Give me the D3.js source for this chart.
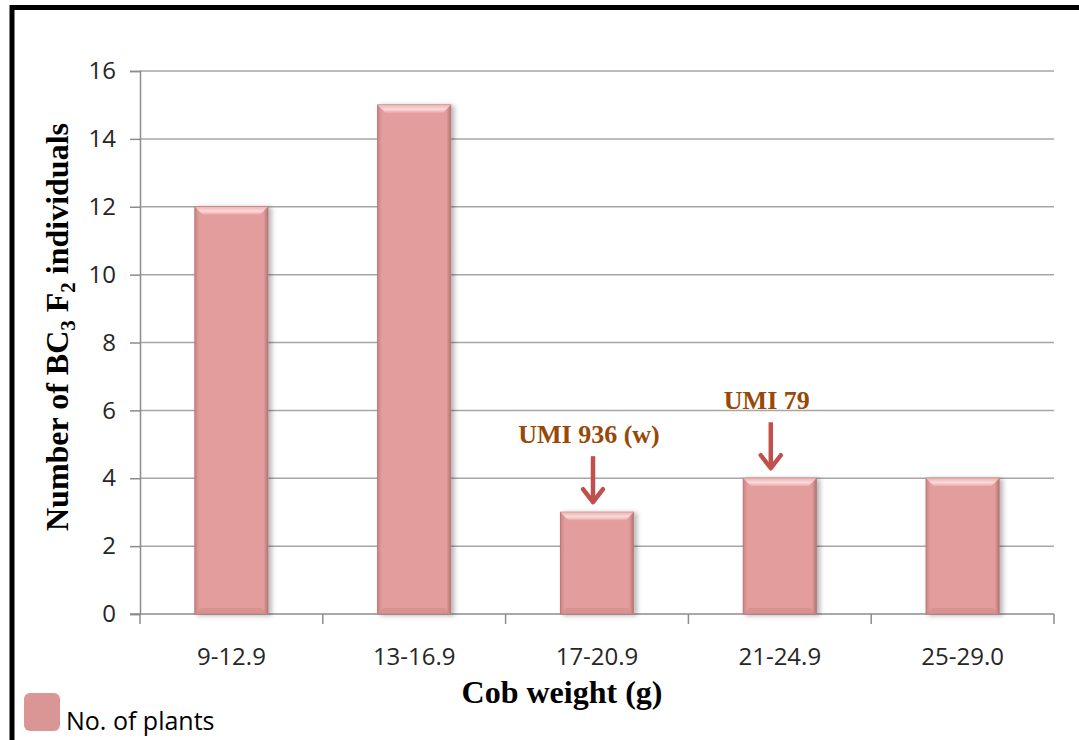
<!DOCTYPE html>
<html>
<head>
<meta charset="utf-8">
<script src="https://cdn.jsdelivr.net/npm/d3@7"></script>
<style>
  body { margin: 0; background: #ffffff; }
  svg { display: block; }
</style>
</head>
<body>
<div id="chart"></div>
<script>
// data
const categories = [ '9-12.9', '13-16.9', '17-20.9', '21-24.9', '25-29.0' ];
const plants = [ 12, 15, 3, 4, 4 ];
const yTicks = [ 0, 2, 4, 6, 8, 10, 12, 14, 16 ];
const noteLabels = [ 'UMI 936 (w)', 'UMI 79' ];
const noteCategories = [ '17-20.9', '21-24.9' ];

const figure_width = 1079;
const figure_height = 740;
const plot_margin = { top: 71, right: 25, bottom: 126, left: 140 },
    plot_width = figure_width - plot_margin.left - plot_margin.right,
    plot_height = figure_height - plot_margin.top - plot_margin.bottom;

const tickStyle = 'font-size:24px; font-family:"Open Sans"; fill:#262626;';
const titleStyle = 'font-size:32px; font-family:"Liberation Serif"; font-weight:bold; fill:#000;';

const svg = d3.select( '#chart' )
  .append( 'svg' )
    .attr( 'width', figure_width )
    .attr( 'height', figure_height );

// bar shading
const defs = svg.append( 'defs' );
const grad = defs.append( 'linearGradient' ).attr( 'id', 'barFill' )
  .attr( 'x1', 0 ).attr( 'x2', 1 ).attr( 'y1', 0 ).attr( 'y2', 0 );
grad.append( 'stop' ).attr( 'offset', '0%' ).attr( 'stop-color', '#c98584' );
grad.append( 'stop' ).attr( 'offset', '6%' ).attr( 'stop-color', '#e39d9c' );
grad.append( 'stop' ).attr( 'offset', '94%' ).attr( 'stop-color', '#e39d9c' );
grad.append( 'stop' ).attr( 'offset', '100%' ).attr( 'stop-color', '#b27473' );
const topGrad = defs.append( 'linearGradient' ).attr( 'id', 'barTop' )
  .attr( 'x1', 0 ).attr( 'x2', 0 ).attr( 'y1', 0 ).attr( 'y2', 1 );
topGrad.append( 'stop' ).attr( 'offset', '0%' ).attr( 'stop-color', '#f0b3b2' );
topGrad.append( 'stop' ).attr( 'offset', '55%' ).attr( 'stop-color', '#fbdada' );
topGrad.append( 'stop' ).attr( 'offset', '100%' ).attr( 'stop-color', '#e8a6a5' );
const shadow = defs.append( 'filter' ).attr( 'id', 'shadow' )
  .attr( 'x', '-20%' ).attr( 'y', '-10%' ).attr( 'width', '150%' ).attr( 'height', '130%' );
shadow.append( 'feDropShadow' )
  .attr( 'dx', 3 ).attr( 'dy', 1 ).attr( 'stdDeviation', 2.5 )
  .attr( 'flood-color', '#000' ).attr( 'flood-opacity', 0.3 );

// black frame (top and left only)
svg.append( 'path' )
  .attr( 'd', 'M12,' + figure_height + ' V7.5 H' + figure_width )
  .attr( 'fill', 'none' )
  .attr( 'stroke', '#000' )
  .attr( 'stroke-width', 5 );

const g = svg.append( 'g' )
  .attr( 'transform', 'translate(' + plot_margin.left + ',' + plot_margin.top + ')' );

const x = d3.scaleBand()
  .domain( categories )
  .range( [ 0, plot_width ] )
  .paddingInner( 0.6 )
  .paddingOuter( 0.3 );
const xEdge = d3.scaleBand().domain( categories ).range( [ 0, plot_width ] );

const y = d3.scaleLinear()
  .domain( [ 0, 16 ] )
  .range( [ plot_height, 0 ] );

// gridlines
g.append( 'g' )
  .selectAll( 'line' )
  .data( yTicks.filter( function( d ) { return d > 0; } ) )
  .enter()
  .append( 'line' )
    .attr( 'x1', 0 )
    .attr( 'x2', plot_width )
    .attr( 'y1', function( d ) { return y( d ); } )
    .attr( 'y2', function( d ) { return y( d ); } )
    .attr( 'stroke', '#a6a6a6' )
    .attr( 'stroke-width', 1.5 );

// Y axis
const yAxis = g.append( 'g' )
  .call( d3.axisLeft( y ).tickValues( yTicks ).tickSize( 10 ).tickPadding( 14 ) );
yAxis.select( '.domain' ).attr( 'stroke', '#8c8c8c' ).attr( 'stroke-width', 1.5 );
yAxis.selectAll( '.tick line' ).attr( 'stroke', '#8c8c8c' ).attr( 'stroke-width', 1.5 );
yAxis.selectAll( '.tick text' ).attr( 'style', tickStyle );

// X axis: ticks at band edges
const xg = g.append( 'g' ).attr( 'transform', 'translate(0,' + plot_height + ')' );
xg.append( 'line' )
  .attr( 'x1', -10 ).attr( 'x2', plot_width )
  .attr( 'stroke', '#8c8c8c' ).attr( 'stroke-width', 1.5 );
xg.selectAll( 'line.edge' )
  .data( categories.concat( [ null ] ) )
  .enter()
  .append( 'line' )
    .attr( 'class', 'edge' )
    .attr( 'x1', function( d ) { return d === null ? plot_width : xEdge( d ); } )
    .attr( 'x2', function( d ) { return d === null ? plot_width : xEdge( d ); } )
    .attr( 'y1', 0 ).attr( 'y2', 10 )
    .attr( 'stroke', '#8c8c8c' ).attr( 'stroke-width', 1.5 );
xg.selectAll( 'text' )
  .data( categories )
  .enter()
  .append( 'text' )
    .attr( 'x', function( d ) { return xEdge( d ) + xEdge.bandwidth() / 2; } )
    .attr( 'y', 51 )
    .attr( 'text-anchor', 'middle' )
    .attr( 'style', tickStyle )
    .text( function( d ) { return d; } );

// bars
const bars = g.append( 'g' )
  .selectAll( 'g' )
  .data( categories )
  .enter()
  .append( 'g' );
bars.append( 'rect' )
  .attr( 'x', function( d ) { return x( d ); } )
  .attr( 'y', function( d, i ) { return y( plants[ i ] ); } )
  .attr( 'width', x.bandwidth() )
  .attr( 'height', function( d, i ) { return plot_height - y( plants[ i ] ); } )
  .attr( 'fill', 'url(#barFill)' )
  .attr( 'stroke', '#b87877' )
  .attr( 'stroke-width', 1 )
  .attr( 'filter', 'url(#shadow)' );
// top bevel
const bev = 8;
bars.append( 'path' )
  .attr( 'd', function( d, i ) {
    const x0 = x( d ), x1 = x( d ) + x.bandwidth(), t = y( plants[ i ] );
    return 'M' + x0 + ',' + t + 'H' + x1 + 'L' + ( x1 - bev ) + ',' + ( t + bev ) +
      'H' + ( x0 + bev ) + 'Z';
  } )
  .attr( 'fill', 'url(#barTop)' );
// bottom bevel
bars.append( 'path' )
  .attr( 'd', function( d ) {
    const x0 = x( d ), x1 = x( d ) + x.bandwidth(), b = plot_height;
    return 'M' + x0 + ',' + b + 'H' + x1 + 'L' + ( x1 - 6 ) + ',' + ( b - 6 ) +
      'H' + ( x0 + 6 ) + 'Z';
  } )
  .attr( 'fill', '#d18c8b' )
  .attr( 'opacity', 0.6 );

// annotations with arrows
const notes = g.append( 'g' )
  .selectAll( 'g' )
  .data( noteLabels )
  .enter()
  .append( 'g' )
    .attr( 'transform', function( d, i ) {
      const c = noteCategories[ i ];
      const k = categories.indexOf( c );
      const cx = x( c ) + x.bandwidth() / 2 - ( i === 0 ? 4 : 9 );
      return 'translate(' + cx + ',' + ( y( plants[ k ] ) - 9 ) + ')';
    } );
notes.append( 'line' )
  .attr( 'x1', 0 ).attr( 'x2', 0 )
  .attr( 'y1', -47 ).attr( 'y2', -4 )
  .attr( 'stroke', '#c0504d' ).attr( 'stroke-width', 4.5 );
notes.append( 'path' )
  .attr( 'd', 'M-10,-14 L0,-1 L10,-14' )
  .attr( 'fill', 'none' )
  .attr( 'stroke', '#c0504d' ).attr( 'stroke-width', 4.5 )
  .attr( 'stroke-linecap', 'round' ).attr( 'stroke-linejoin', 'round' );
notes.append( 'text' )
  .attr( 'x', -4 )
  .attr( 'y', -60 )
  .attr( 'text-anchor', 'middle' )
  .attr( 'style', 'font-size:26px; font-family:"Liberation Serif"; font-weight:bold; fill:#984807;' )
  .text( function( d ) { return d; } );

// axis titles
svg.append( 'text' )
  .attr( 'x', 562 )
  .attr( 'y', 703 )
  .attr( 'text-anchor', 'middle' )
  .attr( 'style', titleStyle )
  .text( 'Cob weight (g)' );

const yTitle = svg.append( 'text' )
  .attr( 'transform', 'translate(68,327) rotate(-90)' )
  .attr( 'text-anchor', 'middle' )
  .attr( 'style', titleStyle );
yTitle.append( 'tspan' ).text( 'Number of BC' );
yTitle.append( 'tspan' ).attr( 'dy', 7 ).attr( 'font-size', '21px' ).text( '3' );
yTitle.append( 'tspan' ).attr( 'dy', -7 ).text( ' F' );
yTitle.append( 'tspan' ).attr( 'dy', 7 ).attr( 'font-size', '21px' ).text( '2' );
yTitle.append( 'tspan' ).attr( 'dy', -7 ).text( ' individuals' );

// legend
svg.append( 'rect' )
  .attr( 'x', 24 ).attr( 'y', 693 )
  .attr( 'width', 36 ).attr( 'height', 38 )
  .attr( 'rx', 6 )
  .attr( 'fill', '#d99694' );
svg.append( 'text' )
  .attr( 'x', 66 ).attr( 'y', 730 )
  .attr( 'style', 'font-size:25px; font-family:"Open Sans"; fill:#000;' )
  .text( 'No. of plants' );
</script>
</body>
</html>
